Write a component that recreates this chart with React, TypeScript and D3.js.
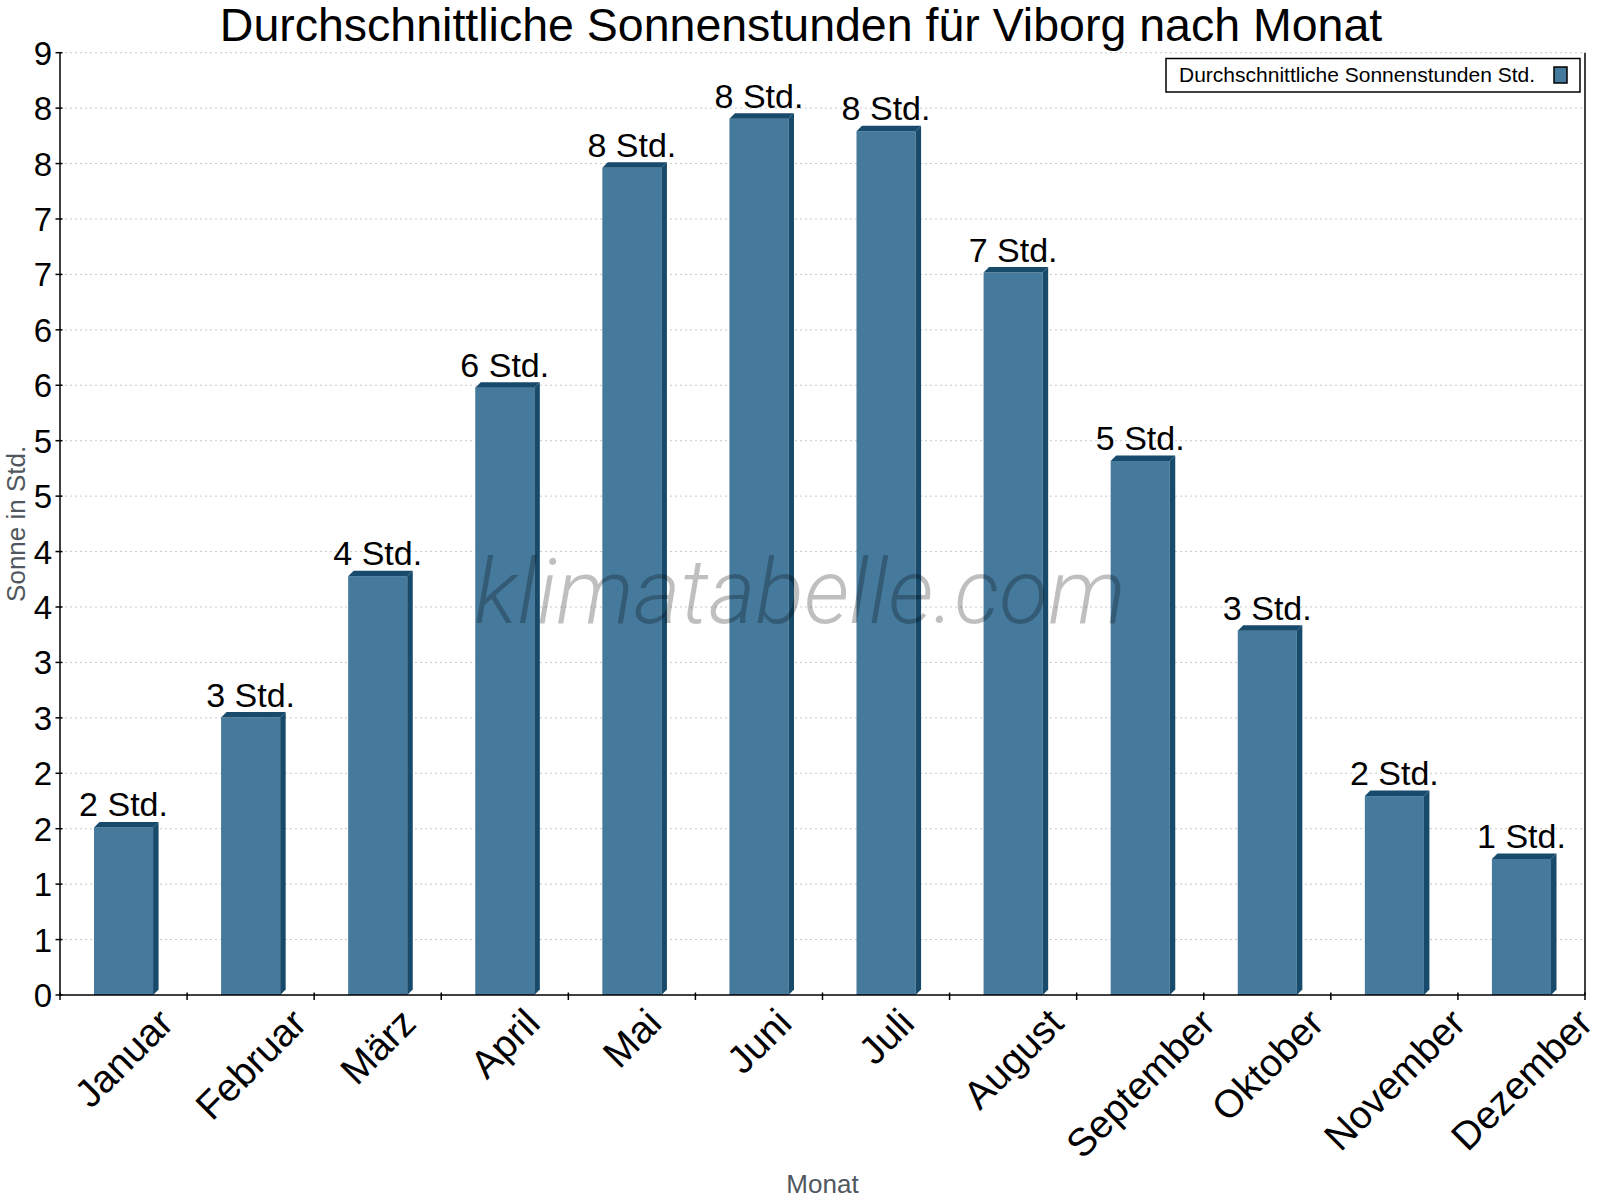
import { useEffect, useRef } from "react";
import * as d3 from "d3";

// Monthly average sunshine hours, Viborg
const MONTHS = [
  "Januar",
  "Februar",
  "März",
  "April",
  "Mai",
  "Juni",
  "Juli",
  "August",
  "September",
  "Oktober",
  "November",
  "Dezember",
];
const SUN_HOURS = [1.6, 2.65, 4.0, 5.8, 7.9, 8.37, 8.25, 6.9, 5.1, 3.48, 1.9, 1.3];

const Y_MAX = 9;
const Y_STEPS = 17; // jpgraph-style: 18 ticks over 0..9, labels rounded

const TITLE = "Durchschnittliche Sonnenstunden für Viborg nach Monat";
const LEGEND_LABEL = "Durchschnittliche Sonnenstunden Std.";
const X_TITLE = "Monat";
const Y_TITLE = "Sonne in Std.";
const WATERMARK = "klimatabelle.com";

const FONT = "'Liberation Sans', Arial, Helvetica, sans-serif";
const FRONT = "#467a9c";
const DARK = "#174a6b";

export default function App(): JSX.Element {
  const ref = useRef<SVGSVGElement | null>(null);

  useEffect(() => {
    if (!ref.current) return;
    const width = 1600;
    const height = 1200;
    const left = 60;
    const right = 1585;
    const top = 52.7;
    const bottom = 995;

    const svg = d3.select(ref.current).attr("width", width).attr("height", height);
    svg.selectAll("*").remove();

    svg.append("rect").attr("width", width).attr("height", height).attr("fill", "#fff");

    const x = d3.scaleBand<string>().domain(MONTHS).range([left, right]).padding(0);
    const y = d3.scaleLinear().domain([0, Y_MAX]).range([bottom, top]);
    const ticks = d3.range(Y_STEPS + 1).map((i) => (i * Y_MAX) / Y_STEPS);

    // dashed horizontal grid
    svg
      .append("g")
      .selectAll("line")
      .data(ticks.filter((t) => t > 0))
      .join("line")
      .attr("x1", left)
      .attr("x2", right)
      .attr("y1", (d) => y(d))
      .attr("y2", (d) => y(d))
      .attr("stroke", "#c8c8c8")
      .attr("stroke-width", 1)
      .attr("stroke-dasharray", "2,3");

    // 3D-ish bars: front face + top + side in a darker shade
    const barW = x.bandwidth() * 0.465;
    const depth = 5.5;
    const bars = svg
      .append("g")
      .selectAll("g")
      .data(MONTHS.map((m, i) => ({ m, v: SUN_HOURS[i] })))
      .join("g");

    bars.each(function (d) {
      const g = d3.select(this);
      const x0 = (x(d.m) ?? 0) + (x.bandwidth() - barW) / 2;
      const x1 = x0 + barW;
      const yt = y(d.v);
      const yb = y(0);
      g.append("rect")
        .attr("x", x0)
        .attr("y", yt)
        .attr("width", barW)
        .attr("height", yb - yt)
        .attr("fill", FRONT);
      g.append("polygon")
        .attr(
          "points",
          [
            [x0, yt],
            [x0 + depth, yt - depth],
            [x1 + depth, yt - depth],
            [x1, yt],
          ].join(" "),
        )
        .attr("fill", DARK);
      g.append("polygon")
        .attr(
          "points",
          [
            [x1, yt],
            [x1 + depth, yt - depth],
            [x1 + depth, yb - depth],
            [x1, yb],
          ].join(" "),
        )
        .attr("fill", DARK);
    });

    // watermark sits over the bars, semi-transparent
    svg
      .append("text")
      .attr("x", 800)
      .attr("y", 623)
      .attr("text-anchor", "middle")
      .attr("font-family", "Roboto, 'Noto Sans', sans-serif")
      .attr("font-style", "italic")
      .attr("font-weight", 300)
      .attr("font-size", 90)
      .attr("fill", "#000")
      .attr("fill-opacity", 0.25)
      .text(WATERMARK);

    // value labels
    svg
      .append("g")
      .selectAll("text")
      .data(MONTHS.map((m, i) => ({ m, v: SUN_HOURS[i] })))
      .join("text")
      .attr("x", (d) => (x(d.m) ?? 0) + x.bandwidth() / 2)
      .attr("y", (d) => y(d.v) - 11)
      .attr("text-anchor", "middle")
      .attr("font-family", FONT)
      .attr("font-size", 34)
      .attr("fill", "#000")
      .text((d) => `${Math.round(d.v)} Std.`);

    // axes
    const axis = svg.append("g").attr("stroke", "#000").attr("stroke-width", 1.5);
    axis.append("line").attr("x1", left).attr("x2", left).attr("y1", top).attr("y2", bottom);
    axis.append("line").attr("x1", right).attr("x2", right).attr("y1", top).attr("y2", bottom);
    axis.append("line").attr("x1", left).attr("x2", right).attr("y1", bottom).attr("y2", bottom);

    axis
      .append("g")
      .selectAll("line")
      .data(ticks)
      .join("line")
      .attr("x1", left - 4.5)
      .attr("x2", left + 2.5)
      .attr("y1", (d) => y(d))
      .attr("y2", (d) => y(d));

    const bounds = MONTHS.map((m) => x(m) ?? 0).concat([right]);
    axis
      .append("g")
      .selectAll("line")
      .data(bounds)
      .join("line")
      .attr("x1", (d) => d)
      .attr("x2", (d) => d)
      .attr("y1", bottom - 2.5)
      .attr("y2", bottom + 5);

    svg
      .append("g")
      .selectAll("text")
      .data(ticks)
      .join("text")
      .attr("x", 52)
      .attr("y", (d) => y(d) + 12)
      .attr("text-anchor", "end")
      .attr("font-family", FONT)
      .attr("font-size", 33)
      .attr("fill", "#000")
      .text((d) => String(Math.round(d)));

    // rotated month labels: bbox centred on the band, top edge fixed
    const ctx = document.createElement("canvas").getContext("2d");
    const labelSize = 39;
    if (ctx) ctx.font = `${labelSize}px ${FONT}`;
    const labelTop = 1002;
    svg
      .append("g")
      .selectAll("text")
      .data(MONTHS)
      .join("text")
      .attr("transform", (m) => {
        const w = ctx ? ctx.measureText(m).width : m.length * 20;
        const cx = (x(m) ?? 0) + x.bandwidth() / 2;
        const cy = labelTop + (w + labelSize) * 0.3536;
        return `translate(${cx},${cy}) rotate(-45)`;
      })
      .attr("text-anchor", "middle")
      .attr("dy", "0.35em")
      .attr("font-family", FONT)
      .attr("font-size", labelSize)
      .attr("fill", "#000")
      .text((m) => m);

    // axis titles
    svg
      .append("text")
      .attr("x", (left + right) / 2)
      .attr("y", 1193)
      .attr("text-anchor", "middle")
      .attr("font-family", FONT)
      .attr("font-size", 26)
      .attr("fill", "#50575e")
      .text(X_TITLE);

    svg
      .append("text")
      .attr("transform", `translate(25,${(top + bottom) / 2}) rotate(-90)`)
      .attr("text-anchor", "middle")
      .attr("font-family", FONT)
      .attr("font-size", 26)
      .attr("fill", "#50575e")
      .text(Y_TITLE);

    // title
    svg
      .append("text")
      .attr("x", 801)
      .attr("y", 41)
      .attr("text-anchor", "middle")
      .attr("font-family", FONT)
      .attr("font-size", 46.5)
      .attr("fill", "#000")
      .text(TITLE);

    // legend
    const lg = svg.append("g");
    lg.append("rect")
      .attr("x", 1166)
      .attr("y", 58.5)
      .attr("width", 414)
      .attr("height", 33.5)
      .attr("fill", "#fff")
      .attr("stroke", "#000")
      .attr("stroke-width", 1.5);
    lg.append("text")
      .attr("x", 1179)
      .attr("y", 82)
      .attr("font-family", FONT)
      .attr("font-size", 21)
      .attr("fill", "#000")
      .text(LEGEND_LABEL);
    lg.append("rect")
      .attr("x", 1554)
      .attr("y", 67)
      .attr("width", 13)
      .attr("height", 16)
      .attr("fill", FRONT)
      .attr("stroke", "#000")
      .attr("stroke-width", 1.5);
  }, []);

  return (
    <svg
      ref={ref}
      style={{ position: "absolute", left: 0, top: 0, display: "block", background: "#fff" }}
    />
  );
}
